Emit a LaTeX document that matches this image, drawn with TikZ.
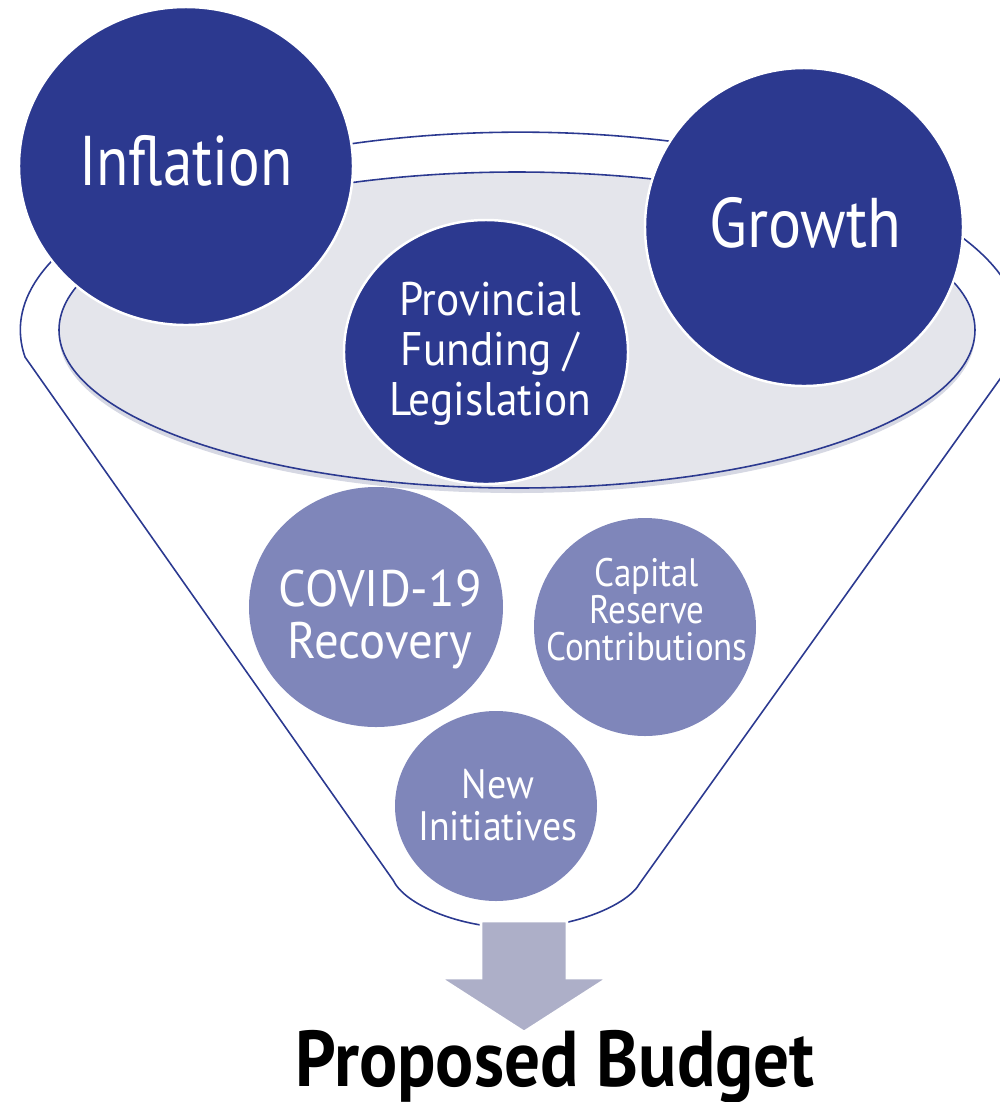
\documentclass[tikz,border=0pt]{standalone}
\usepackage{fontspec}
\newfontfamily\fa[FakeStretch=0.84]{PT Sans}
\newfontfamily\fb[FakeStretch=0.88]{PT Sans}
\newfontfamily\fc[FakeStretch=0.92]{PT Sans}
\newfontfamily\fd[FakeStretch=0.95]{PT Sans}
\newfontfamily\fe[FakeStretch=0.90]{PT Sans}
\definecolor{darkc}{HTML}{2C398F}
\definecolor{lightc}{HTML}{7F86BA}
\definecolor{rimc}{HTML}{2B3990}
\definecolor{grayc}{HTML}{E4E5EB}
\definecolor{shadc}{HTML}{D6D8E3}
\definecolor{arrc}{HTML}{ADAFC8}
\tikzset{
  rim/.style={draw=rimc, line width=0.45pt},
  darkball/.style={fill=darkc, draw=white, line width=0.7pt},
  lightball/.style={fill=lightc},
  lbl/.style={text=white, align=center, inner sep=0pt, anchor=base},
}
\begin{document}
\begin{tikzpicture}[x=0.01cm,y=-0.01cm]
\useasboundingbox (0,0) rectangle (1000,1102);
% funnel outline
\draw[rim] (25,357) arc[start angle=172.2, end angle=367.8, x radius=500, y radius=198]
  -- (640,883) .. controls (628,905) and (574,928) .. (517,928)
  .. controls (460,928) and (405,905) .. (393,880) -- cycle;
% inner disc
\fill[shadc] (517,335) ellipse[x radius=458, y radius=158];
\filldraw[fill=grayc, rim] (517,330) ellipse[x radius=458, y radius=158];
% dark balls
\filldraw[darkball] (186,166) ellipse[x radius=167, y radius=159];
\filldraw[darkball] (804,227) ellipse[x radius=159, y radius=159];
\filldraw[darkball] (486,352) ellipse[x radius=142, y radius=132];
% light balls
\fill[lightball] (376,607) ellipse[x radius=127, y radius=120];
\fill[lightball] (645,627) ellipse[x radius=111, y radius=109];
\fill[lightball] (496,806) ellipse[x radius=101, y radius=95];
% arrow
\filldraw[fill=arrc, draw=white, line width=0.8pt] (481,921) -- (567,921) -- (567,978) -- (608,978)
  -- (524,1032) -- (440,978) -- (481,978) -- cycle;
% texts (anchor base = baseline of the last line)
\node[lbl, font=\fa\fontsize{20}{23}\selectfont] (inf) at (186,185) {Inflation};
\node[lbl, font=\fb\fontsize{20}{23}\selectfont] (gro) at (805,247) {Growth};
\node[lbl, font=\fc\fontsize{13.4}{14.2}\selectfont] (pro) at (490,415) {Provincial\\Funding /\\Legislation};
\node[lbl, font=\fd\fontsize{14.6}{14.7}\selectfont] (cov) at (380,658) {COVID-19\\Recovery};
\node[lbl, font=\fb\fontsize{11.3}{10.5}\selectfont] (cap) at (647,660) {Capital\\Reserve\\Contributions};
\node[lbl, font=\fc\fontsize{11.7}{11.9}\selectfont] (new) at (498,840) {New\\Initiatives};
\node[inner sep=0pt, anchor=base, font=\fe\bfseries\fontsize{22.5}{25}\selectfont] (bud) at (555,1086) {Proposed Budget};
\end{tikzpicture}
\end{document}
